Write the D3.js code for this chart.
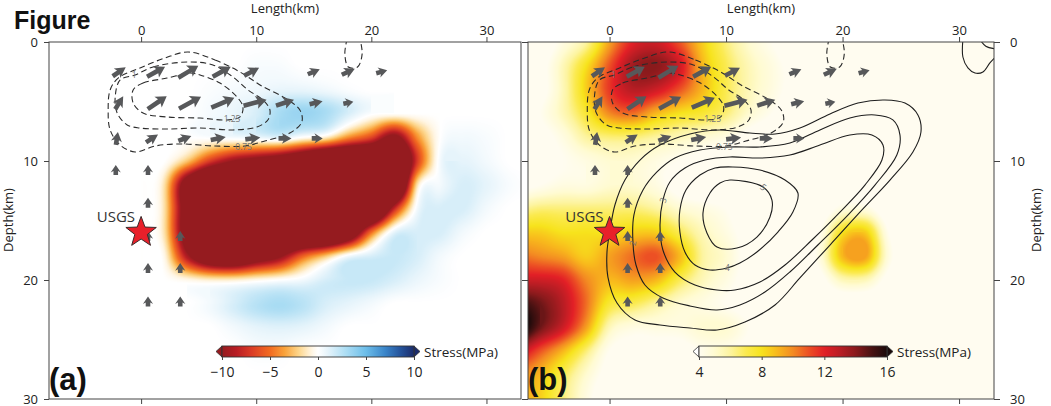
<!DOCTYPE html>
<html><head><meta charset="utf-8">
<script src="https://cdn.jsdelivr.net/npm/d3@7"></script>
<style>
html,body{margin:0;padding:0;background:#fff;}
svg{display:block;font-family:"Open Sans",sans-serif;}
</style></head><body>
<svg id="chart" width="1051" height="406"></svg>
<script>
// ---------------- data ----------------
const lengthTicks = [0, 10, 20, 30];
const depthTicks = [0, 10, 20, 30];
const gridX = [-8,-6,-4,-2,0,2,4,6,8,10,12,14,16,18,20,22,24,26,28,30,32,34];
const gridDepth = [0,2,4,6,8,10,12,14,16,18,20,22,24,26,28,30];

// (a) stress change (MPa), rows = depth nodes, cols = length nodes
const stressA = [
 [0,0,0,0,0,0,0,0,0,0,0,0,0,0,0,0,0,0,0,0,0,0],
 [0,0,0,0,0,0,0,0,0,0.3,0.3,0,0,0,0,0,0,0,0,0,0,0],
 [0,0,0,0,0,0,0,0.2,0.4,0.6,0.9,0.9,0.6,0.2,0,0,0,0,0,0,0,0],
 [0,0,0,0,0,0,0,0.4,0.8,1.5,3,3.5,3,1.5,0.2,0,0,0,0,0,0,0],
 [0,0,0,0,0,0,0,0.2,0.5,0.8,1.2,0,-0.9,-4,-6.5,-11,-4,0,0.5,0.3,0,0],
 [0,0,0,0,0,0,-2.5,-7,-10,-11.5,-13,-15.5,-19,-20,-20,-20,-7,0.5,1,0.5,0,0],
 [0,0,0,0,0,-1.5,-13,-20,-20,-20,-20,-20,-20,-20,-20,-20,-1.5,0.5,1.5,1,0.3,0],
 [0,0,0,0,0,-1.5,-13,-20,-20,-20,-20,-20,-20,-20,-20,-8,0.5,1.5,1.5,0.5,0,0],
 [0,0,0,0,0,-1.5,-13,-20,-20,-20,-20,-20,-20,-15,-5,1,1.5,1.5,0.5,0,0,0],
 [0,0,0,0,0,-0.5,-9,-15,-16,-13,-10.5,-5.5,-2.5,0.5,1.5,2,1.5,0.5,0,0,0,0],
 [0,0,0,0,0,0,-0.5,-1,-1,-0.5,0,0.5,1.5,2,2,1.5,0.8,0.3,0,0,0,0],
 [0,0,0,0,0,0,0,0.5,1.5,2.5,3,2.5,1.5,1,0.5,0,0,0,0,0,0,0],
 [0,0,0,0,0,0,0,0,0.5,1,1.2,1,0.5,0,0,0,0,0,0,0,0,0],
 [0,0,0,0,0,0,0,0,0,0.3,0.3,0,0,0,0,0,0,0,0,0,0,0],
 [0,0,0,0,0,0,0,0,0,0,0,0,0,0,0,0,0,0,0,0,0,0],
 [0,0,0,0,0,0,0,0,0,0,0,0,0,0,0,0,0,0,0,0,0,0]
];
// (b) stress (MPa)
const stressB = [
 [3,3,4.5,6,9.5,12,12.5,11,8.5,6.5,5,4,3,3,3,3,3,3,3,3,3,3],
 [3,3.5,5.5,8,11,13.5,14,12.5,9,7,5.5,4.5,3.5,3,3,3,3,3,3,3,3,3],
 [3,3.5,5.5,8.5,11.5,13,12.5,11,9,7,5.5,4.5,3.5,3,3,3,3,3,3,3,3,3],
 [3,4,5.5,7.5,10,10.5,9,8,7.5,6.5,5,4,3,3,3,3,3,3,3,3,3,3],
 [3,3.5,4.5,6,6.5,6.5,6,5.5,5,4.5,3.5,3,3,3,3,3,3,3,3,3,3,3],
 [3,3.5,4,4.5,5,5,4.5,4,3.5,3,3,3,3,3,3,3,3,3,3,3,3,3],
 [3.5,4,4.5,4.5,5,5,4.5,3.5,3,3,3,3,3,3,3,3,3,3,3,3,3,3],
 [6,6.5,6.5,6.5,6.5,6.5,6,5,4.5,4,3,3,3,3,4.5,4.5,3,3,3,3,3,3],
 [8.5,8.5,8,8,8,8.5,8.5,7,5.5,4.5,3.5,3,3,4,8,8.5,4,3,3,3,3,3],
 [10.5,10,9.5,8.5,9.5,10.5,11,9,6,5,3.5,3,3,4.5,9,9.5,4.5,3,3,3,3,3],
 [12.5,12.5,12,10,9,9.5,9,7,5.5,4.5,3.5,3,3,3.5,5.5,5.5,3.5,3,3,3,3,3],
 [15.5,14.5,13,10.5,7.5,7,6,5,4.5,4,3.5,3,3,3,3,3,3,3,3,3,3,3],
 [17,14.5,12.5,9.5,5.5,4.5,4.5,4.5,5,5,4,3,3,3,3,3,3,3,3,3,3,3],
 [13,11,9,6.5,4,3.5,3.5,3.5,4,4,3.5,3,3,3,3,3,3,3,3,3,3,3],
 [10,9,7,5,3.5,3,3,3,3,3,3,3,3,3,3,3,3,3,3,3,3,3],
 [9.5,8.5,6.5,4.5,3,3,3,3,3,3,3,3,3,3,3,3,3,3,3,3,3,3]
];

// slip vectors (length km, depth km, strike-slip m, dip-slip m)
const slipX     = [-1.9,1.3,4.1,7.0,9.6,15.0,18.0,20.9,  -1.9,1.4,4.25,7.1,9.9,12.5,15.2,18.0,  -2.1,0.95,3.8,6.7,9.7,12.5,15.3,  -2.2,0.6,0.6,0.6,3.4,0.6,3.4,0.6,3.4];
const slipDepth = [2.5,2.5,2.5,2.5,2.5,2.5,2.5,2.5,  5.1,5.1,5.1,5.1,5.1,5.1,5.1,5.1,  8.1,8.1,8.1,8.1,8.1,8.1,8.1,  10.75,10.75,13.5,16.3,16.3,19.0,19.0,21.8,21.8];
const slipStrike= [1.3,1.8,2.0,1.8,1.5,1.2,1.3,1.1,  0.8,1.9,2.2,2.3,2.3,1.8,1.3,1.0,  0.2,1.2,1.3,1.5,1.5,1.3,1.1,  0,0,0,0,0,0,0,0,0];
const slipDip   = [0.9,1.0,1.2,1.0,0.8,0.5,0.6,0.3,  1.3,1.3,1.2,1.0,0.6,0.6,0.3,0.2,  1.3,0.8,0.5,0.3,0.2,0.0,0.0,  1.0,1.0,1.0,1.0,1.0,1.0,1.0,1.0,1.0];

// slip contours (dashed), [length km, depth km]
const slip075 = [[4.08,0.84],[6.42,1.51],[8.59,2.52],[10.49,3.70],[12.49,4.71],[13.79,5.71],[13.96,6.72],[12.92,7.65],[10.75,8.32],[9.02,8.74],[6.42,8.74],[3.38,8.57],[1.21,8.74],[-0.52,9.24],[-1.82,8.66],[-2.69,7.39],[-2.86,5.71],[-2.69,4.03],[-1.99,3.03],[-0.09,2.18],[2.08,1.34]];
const slip100 = [[-0.52,2.77],[1.04,2.10],[4.08,1.68],[6.24,1.93],[7.98,2.94],[9.28,4.03],[10.58,4.87],[11.19,5.71],[11.01,6.55],[10.06,7.14],[7.98,7.39],[5.12,7.23],[2.25,7.31],[-0.09,7.23],[-1.21,6.97],[-2.08,5.97],[-2.25,4.62],[-1.82,3.19]];
const slip125 = [[-0.69,4.03],[0.17,3.45],[2.25,3.03],[4.25,2.61],[5.12,2.77],[6.85,3.45],[8.33,4.62],[8.85,5.46],[8.59,6.30],[7.46,6.55],[5.12,6.39],[2.25,6.30],[0.17,5.97],[-0.69,5.13]];
const slipTop = [[17.9,-0.3],[17.7,1.0],[18.0,2.1],[18.8,2.1],[19.2,1.0],[19.0,-0.3]];
const slipLabels = ["1", "1.25", "0.75"];
const slipLabelPos = [[-0.6,2.8],[7.9,6.5],[8.9,8.8]];

// (b) solid contours
const cont1 = [[0.03,15.88],[0.46,13.70],[1.32,11.60],[2.61,9.92],[4.33,8.66],[6.90,7.73],[9.48,7.39],[12.05,7.65],[14.20,7.73],[16.34,7.23],[18.92,6.05],[21.32,5.13],[23.64,4.87],[25.36,5.13],[26.47,6.13],[26.73,7.56],[26.04,9.24],[24.07,11.60],[21.49,14.29],[18.92,17.06],[16.34,19.83],[14.20,22.10],[11.62,23.53],[9.22,24.20],[6.90,24.03],[4.33,23.78],[2.18,23.36],[0.64,21.93],[-0.14,19.75],[-0.22,17.65]];
const cont2 = [[2.01,16.89],[2.09,14.54],[2.87,12.44],[4.07,10.92],[5.61,9.75],[7.76,9.08],[10.33,8.82],[12.91,8.82],[15.48,8.49],[18.06,7.39],[20.63,6.39],[22.78,6.13],[24.32,6.55],[24.93,7.82],[24.66,9.50],[22.78,12.02],[20.46,14.54],[17.88,17.06],[15.48,19.33],[13.34,21.01],[11.19,22.10],[9.22,22.52],[6.90,22.18],[4.58,21.51],[3.04,20.42],[2.27,18.74]];
const cont3 = [[4.58,13.28],[5.18,11.76],[6.47,10.59],[8.19,9.92],[10.33,9.66],[12.91,9.75],[15.48,9.50],[18.06,8.66],[20.63,7.82],[22.52,7.82],[23.47,8.66],[23.38,9.92],[21.92,12.02],[19.78,14.29],[17.37,16.64],[15.06,18.74],[12.91,20.17],[10.76,20.84],[9.22,20.84],[7.33,20.42],[5.61,19.33],[4.58,17.48],[4.33,15.38]];
const cont4 = [[10.59,10.50],[12.91,10.76],[15.06,11.60],[16.17,12.69],[15.74,14.29],[14.45,15.97],[12.65,17.65],[11.19,18.57],[10.08,18.99],[8.62,19.16],[7.33,18.74],[6.47,17.65],[6.04,15.97],[6.04,14.12],[6.56,12.44],[7.76,11.18],[9.05,10.59]];
const cont5 = [[10.33,11.60],[13.17,12.18],[13.94,13.28],[13.77,14.71],[12.65,16.39],[10.94,17.31],[9.22,17.23],[8.36,16.05],[8.02,14.37],[8.62,12.69],[9.48,11.85]];
const contCorner1 = [[30.33,-0.2],[30.33,1.26],[30.76,2.18],[31.37,2.61],[32.05,2.52],[32.65,1.76],[33.3,1.1]];
const contCorner2 = [[31.8,-0.2],[32.3,0.35],[33.3,0.6]];
const contLabels = ["2","3","4","5"];
const contLabelPos = [[2.0,16.9],[4.6,13.3],[10.1,19.0],[13.2,12.2]];

const hypocenter = [0, 16];
const hypoLabel = "USGS";
const cbTicksA = [-10, -5, 0, 5, 10];
const cbTicksB = [4, 8, 12, 16];

// ---------------- drawing ----------------
const svg = d3.select("#chart");
const xA = d3.scaleLinear().domain([-8, 33]).range([49, 521]);
const xB = d3.scaleLinear().domain([-7, 33]).range([528, 994]);
const yS = d3.scaleLinear().domain([0, 30]).range([42, 399]);
const overlayShiftB = 0.95;

const colA = d3.scaleLinear()
  .domain([-10,-8.5,-7,-5,-3.5,-2,-0.7,0,1,3,5,7,8.5,10])
  .range(["#951b1f","#b81d24","#d93a26","#f26b21","#f9a23a","#fdd68c","#fff5e2","#ffffff","#e6f4fb","#a9dcf3","#6cbde9","#3a85c9","#26569e","#1b2c6b"])
  .clamp(true);
const colB = d3.scaleLinear()
  .domain([4,5,6,7,8,9,10,11,12,13,14,15,16])
  .range(["#fffcf0","#fffbd2","#fdf4a0","#fbea50","#f7e31c","#f8b81c","#f38a22","#ec5024","#e21f26","#b81d24","#8a1a1c","#4a1212","#1a0a0a"])
  .clamp(true);

function cubic(p0,p1,p2,p3,t){
  return p1 + 0.5*t*((p2-p0) + t*((2*p0-5*p1+4*p2-p3) + t*(3*(p1-p2)+p3-p0)));
}
function sampleGrid(grid, fx, fy){
  const nr = grid.length, nc = grid[0].length;
  const ix = Math.floor(fx), iy = Math.floor(fy), tx = fx-ix, ty = fy-iy;
  const cl = (v,n)=>Math.max(0,Math.min(n-1,v));
  const rows = [];
  let lo = Infinity, hi = -Infinity;
  for (let m=-1;m<=2;m++){
    const r = grid[cl(iy+m,nr)];
    const a = r[cl(ix-1,nc)], b = r[cl(ix,nc)], c = r[cl(ix+1,nc)], d = r[cl(ix+2,nc)];
    if (m===0||m===1){ lo=Math.min(lo,b,c); hi=Math.max(hi,b,c); }
    rows.push(cubic(a,b,c,d,tx));
  }
  const v = cubic(rows[0],rows[1],rows[2],rows[3],ty);
  return Math.max(lo, Math.min(hi, v));
}
function renderField(g, grid, xs, color, vmin, vmax){
  const x0 = xs.range()[0], x1 = xs.range()[1], y0 = yS.range()[0], y1 = yS.range()[1];
  const w = Math.round(x1-x0), h = Math.round(y1-y0);
  const cv = document.createElement("canvas"); cv.width = w; cv.height = h;
  const ctx = cv.getContext("2d");
  const img = ctx.createImageData(w,h);
  const N = 512, lut = [];
  for (let i=0;i<N;i++){ const c = d3.rgb(color(vmin+(vmax-vmin)*i/(N-1))); lut.push([c.r,c.g,c.b]); }
  const stepX = gridX[1]-gridX[0], stepD = gridDepth[1]-gridDepth[0];
  for (let py=0;py<h;py++){
    const d = yS.invert(y0+py+0.5);
    const fy = (d-gridDepth[0])/stepD;
    for (let px=0;px<w;px++){
      const x = xs.invert(x0+px+0.5);
      const fx = (x-gridX[0])/stepX;
      const v = sampleGrid(grid, fx, fy);
      let k = Math.round((v-vmin)/(vmax-vmin)*(N-1)); k = Math.max(0,Math.min(N-1,k));
      const o = (py*w+px)*4, c = lut[k];
      img.data[o]=c[0]; img.data[o+1]=c[1]; img.data[o+2]=c[2]; img.data[o+3]=255;
    }
  }
  ctx.putImageData(img,0,0);
  g.append("image").attr("x",x0).attr("y",y0).attr("width",w).attr("height",h)
    .attr("preserveAspectRatio","none").attr("href", cv.toDataURL());
}

function arrowPath(cx, cy, vx, vy){
  const L = Math.hypot(vx,vy), ux = vx/L, uy = vy/L, nx = -uy, ny = ux;
  const h = Math.min(9, L*0.62), hw = Math.min(6.5, 3.9+L*0.12), sw = 2.3;
  const tx = cx-ux*L/2, ty = cy-uy*L/2, px = cx+ux*L/2, py = cy+uy*L/2;
  const bx = px-ux*h, by = py-uy*h;
  const f = v=>v.toFixed(2);
  return `M${f(tx+nx*sw)},${f(ty+ny*sw)}L${f(bx+nx*sw)},${f(by+ny*sw)}L${f(bx+nx*hw-ux*1.5)},${f(by+ny*hw-uy*1.5)}L${f(px)},${f(py)}L${f(bx-nx*hw-ux*1.5)},${f(by-ny*hw-uy*1.5)}L${f(bx-nx*sw)},${f(by-ny*sw)}L${f(tx-nx*sw)},${f(ty-ny*sw)}Z`;
}

const defs = svg.append("defs");
function clip(id, xs){
  defs.append("clipPath").attr("id",id).append("rect")
    .attr("x",xs.range()[0]).attr("y",yS.range()[0])
    .attr("width",xs.range()[1]-xs.range()[0]).attr("height",yS.range()[1]-yS.range()[0]);
}
clip("clipA", xA); clip("clipB", xB);

function drawOverlay(g, xs){
  const line = d3.line().x(p=>xs(p[0])).y(p=>yS(p[1])).curve(d3.curveCatmullRomClosed.alpha(0.5));
  const open = d3.line().x(p=>xs(p[0])).y(p=>yS(p[1])).curve(d3.curveCatmullRom.alpha(0.5));
  [slip075, slip100, slip125].forEach(c=>{
    g.append("path").attr("d", line(c)).attr("fill","none").attr("stroke","#2b2b2b")
      .attr("stroke-width",1.1).attr("stroke-dasharray","6,3.5");
  });
  g.append("path").attr("d", open(slipTop)).attr("fill","none").attr("stroke","#2b2b2b")
    .attr("stroke-width",1.1).attr("stroke-dasharray","6,3.5");
  slipLabels.forEach((t,i)=>{
    g.append("text").attr("x", xs(slipLabelPos[i][0])).attr("y", yS(slipLabelPos[i][1])+3)
      .attr("text-anchor","middle").attr("font-size",8.5).attr("fill","#777").text(t);
  });
  slipX.forEach((x,i)=>{
    g.append("path").attr("d", arrowPath(xs(x), yS(slipDepth[i]), slipStrike[i]*10, -slipDip[i]*10))
      .attr("fill","#57585a");
  });
}

function starPath(cx, cy, R, r){
  const pts = d3.range(10).map(i=>{
    const a = -Math.PI/2 + i*Math.PI/5, rad = i%2===0 ? R : r;
    return [cx+rad*Math.cos(a), cy+rad*Math.sin(a)];
  });
  return "M"+pts.map(p=>p[0].toFixed(2)+","+p[1].toFixed(2)).join("L")+"Z";
}

// ---- panel A ----
const gA = svg.append("g");
renderField(gA, stressA, xA, colA, -10, 10);
const oA = gA.append("g").attr("clip-path","url(#clipA)");
drawOverlay(oA, xA);

// ---- panel B ----
const gB = svg.append("g");
gB.append("rect").attr("x",528).attr("y",42).attr("width",466).attr("height",357).attr("fill","#fffcf0");
renderField(gB, stressB, xB, colB, 4, 16);
const oB = gB.append("g").attr("clip-path","url(#clipB)");
{
  const line = d3.line().x(p=>xB(p[0])).y(p=>yS(p[1])).curve(d3.curveCatmullRomClosed.alpha(0.5));
  const open = d3.line().x(p=>xB(p[0])).y(p=>yS(p[1])).curve(d3.curveCatmullRom.alpha(0.5));
  [cont1,cont2,cont3,cont4,cont5].forEach(c=>{
    oB.append("path").attr("d",line(c)).attr("fill","none").attr("stroke","#1e1e1e").attr("stroke-width",1.1);
  });
  [contCorner1, contCorner2].forEach(c=>{
    oB.append("path").attr("d",open(c)).attr("fill","none").attr("stroke","#1e1e1e").attr("stroke-width",1.1);
  });
  const rot = [-80,-70,0,40];
  contLabels.forEach((t,i)=>{
    const px = xB(contLabelPos[i][0]), py = yS(contLabelPos[i][1]);
    oB.append("text").attr("transform",`translate(${px},${py}) rotate(${rot[i]})`).attr("dy","0.35em")
      .attr("text-anchor","middle").attr("font-size",9).attr("fill","#777").text(t);
  });
}
drawOverlay(oB, v=>xB(v+overlayShiftB));

// ---- hypocenter ----
[[gA,xA],[gB,xB]].forEach(([g,xs])=>{
  const cx = xs(hypocenter[0]), cy = yS(hypocenter[1]);
  g.append("path").attr("d", starPath(cx, cy, 16, 6.6)).attr("fill","#e8202a").attr("stroke","#3a2a2a").attr("stroke-width",1);
  g.append("text").attr("x", cx-6).attr("y", cy-10).attr("text-anchor","end")
    .attr("font-size",15).attr("fill","#333").text(hypoLabel);
});

// ---- axes & frames ----
function styleAxis(g){
  g.select(".domain").remove();
  g.selectAll(".tick line").attr("stroke","#444").attr("stroke-width",1);
  g.selectAll(".tick text").attr("fill","#222").attr("font-size",13).attr("font-family","Open Sans");
}
[xA, xB].forEach(xs=>{
  svg.append("rect").attr("x",xs.range()[0]).attr("y",42).attr("width",xs.range()[1]-xs.range()[0]).attr("height",357)
    .attr("fill","none").attr("stroke","#444").attr("stroke-width",1);
  svg.append("g").attr("transform","translate(0,42)")
    .call(d3.axisTop(xs).tickValues(lengthTicks).tickSize(5).tickPadding(2)).call(styleAxis);
  svg.append("g").attr("transform","translate(0,399)")
    .call(d3.axisBottom(xs).tickValues(lengthTicks).tickSize(5).tickFormat("")).call(styleAxis);
  const cx = (xs.range()[0]+xs.range()[1])/2;
  svg.append("text").attr("x",cx).attr("y",13).attr("text-anchor","middle")
    .attr("font-size",13).attr("fill","#222").text("Length(km)");
});
svg.append("g").attr("transform","translate(49,0)")
  .call(d3.axisLeft(yS).tickValues(depthTicks).tickSize(5).tickPadding(6)).call(styleAxis);
svg.append("g").attr("transform","translate(528,0)")
  .call(d3.axisLeft(yS).tickValues(depthTicks).tickSize(6).tickFormat("")).call(styleAxis);
svg.append("g").attr("transform","translate(994,0)")
  .call(d3.axisRight(yS).tickValues(depthTicks).tickSize(6).tickPadding(10)).call(styleAxis);
svg.append("text").attr("transform","translate(13,220) rotate(-90)").attr("text-anchor","middle")
  .attr("font-size",13).attr("fill","#222").text("Depth(km)");
svg.append("text").attr("transform","translate(1041,220) rotate(-90)").attr("text-anchor","middle")
  .attr("font-size",13).attr("fill","#222").text("Depth(km)");

// ---- colorbars ----
function colorbar(id, scale, color, ticks, yTop, leftTri, rightTri){
  const [v0,v1] = scale.domain(), [p0,p1] = scale.range();
  const grad = defs.append("linearGradient").attr("id",id);
  d3.range(41).forEach(i=>{
    const v = v0+(v1-v0)*i/40;
    grad.append("stop").attr("offset",(i/40*100)+"%").attr("stop-color",color(v));
  });
  const h = 11, g = svg.append("g");
  g.append("path").attr("d",`M${p0},${yTop}L${p0-6},${yTop+h/2}L${p0},${yTop+h}Z`).attr("fill",leftTri).attr("stroke","#333").attr("stroke-width",0.8);
  g.append("path").attr("d",`M${p1},${yTop}L${p1+6},${yTop+h/2}L${p1},${yTop+h}Z`).attr("fill",rightTri).attr("stroke","#333").attr("stroke-width",0.8);
  g.append("rect").attr("x",p0).attr("y",yTop).attr("width",p1-p0).attr("height",h)
    .attr("fill",`url(#${id})`).attr("stroke","#333").attr("stroke-width",0.9);
  svg.append("g").attr("transform",`translate(0,${yTop+h})`)
    .call(d3.axisBottom(scale).tickValues(ticks).tickSize(3).tickPadding(7).tickFormat(d=>d<0?"\u2212"+Math.abs(d):d))
    .call(styleAxis).call(s=>s.selectAll(".tick text").attr("font-size",14));
  svg.append("text").attr("x",p1+10).attr("y",yTop+h).attr("font-size",13.5).attr("fill","#222").text("Stress(MPa)");
}
colorbar("gradA", d3.scaleLinear().domain([-10,10]).range([222,414]), colA, cbTicksA, 346, colA(-10), colA(10));
colorbar("gradB", d3.scaleLinear().domain([4,16]).range([699,887]), colB, cbTicksB, 346, "#ffffff", colB(16));

// ---- panel letters & title ----
svg.append("text").attr("x",49).attr("y",390).attr("font-family","Liberation Sans, Arial, sans-serif")
  .attr("font-weight","bold").attr("font-size",31).attr("fill","#111").text("(a)");
svg.append("text").attr("x",528).attr("y",390).attr("font-family","Liberation Sans, Arial, sans-serif")
  .attr("font-weight","bold").attr("font-size",31).attr("fill","#111").text("(b)");
svg.append("text").attr("x",14).attr("y",29).attr("font-family","Liberation Sans, Arial, sans-serif")
  .attr("font-weight","bold").attr("font-size",25).attr("fill","#111").text("Figure");
</script>
</body></html>
